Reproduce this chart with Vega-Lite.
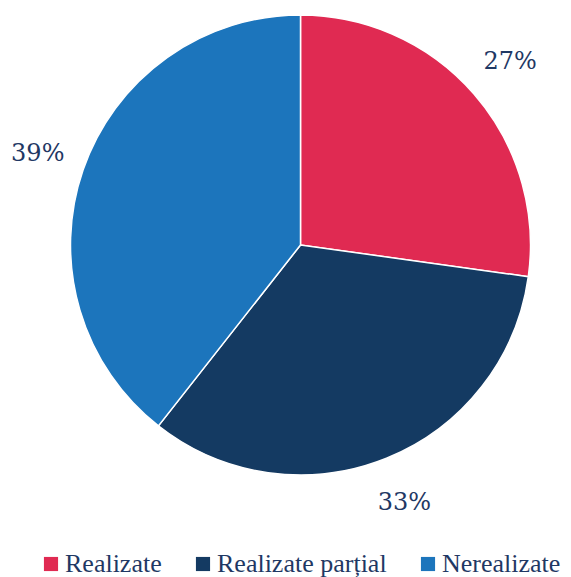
{
  "$schema": "https://vega.github.io/schema/vega-lite/v6.json",
  "width": 541,
  "height": 490,
  "padding": {"left": 30, "top": 0, "right": 0, "bottom": 87},
  "autosize": "none",
  "background": "white",
  "data": {"values": [
    {"cat": "Realizate", "value": 27.2, "label": "27%", "order": 1},
    {"cat": "Realizate parțial", "value": 33.4, "label": "33%", "order": 2},
    {"cat": "Nerealizate", "value": 39.4, "label": "39%", "order": 3}
  ]},
  "encoding": {
    "theta": {"field": "value", "type": "quantitative", "stack": true},
    "order": {"field": "order", "type": "quantitative"}
  },
  "layer": [
    {
      "mark": {"type": "arc", "outerRadius": 230, "stroke": "white", "strokeWidth": 1.5},
      "encoding": {
        "color": {
          "field": "cat", "type": "nominal",
          "scale": {"domain": ["Realizate", "Realizate parțial", "Nerealizate"], "range": ["#E02A52", "#143A62", "#1C75BC"]},
          "legend": {
            "title": null, "orient": "none", "direction": "horizontal",
            "legendX": 8, "legendY": 551,
            "symbolType": "square", "symbolSize": 200, "symbolStrokeWidth": 0,
            "labelFont": "Liberation Serif", "labelFontSize": 26, "labelColor": "#1F3864",
            "labelOffset": 1, "columnPadding": 28, "labelLimit": 300
          }
        }
      }
    },
    {
      "mark": {"type": "text", "radius": 278, "font": "DejaVu Serif", "fontSize": 24, "color": "#1F3864"},
      "encoding": {"text": {"field": "label"}}
    }
  ]
}
